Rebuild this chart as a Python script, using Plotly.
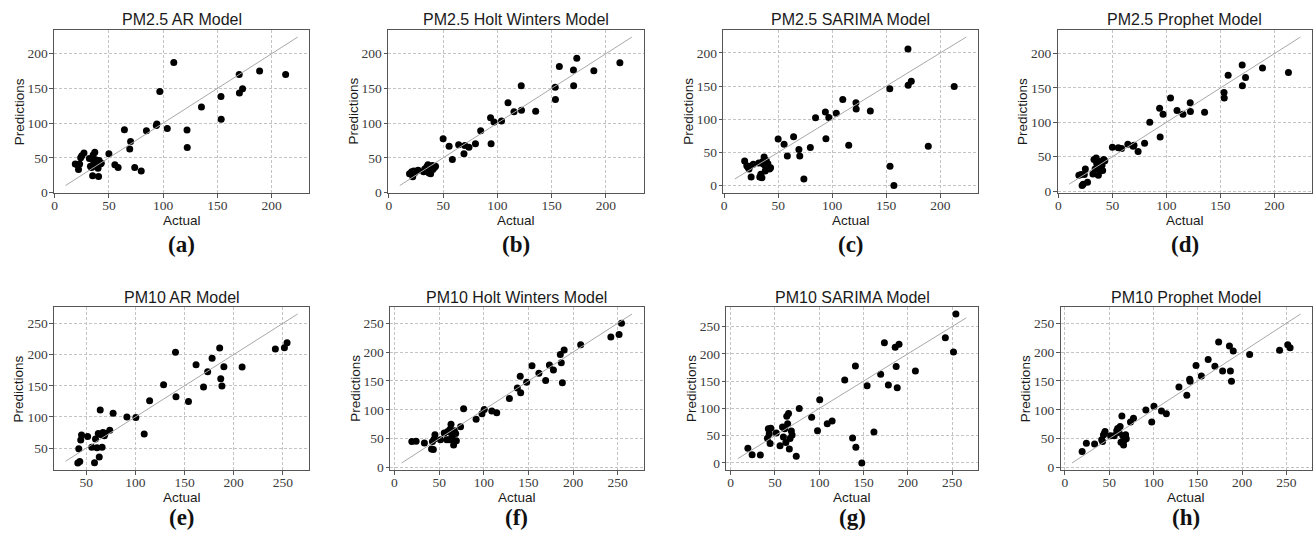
import plotly.graph_objects as go

W, H = 1313, 549

# ---------------- PM2.5 data ----------------
pm25_actual = [19, 21, 22, 23, 24, 25, 27, 32, 33, 34, 35, 35.5, 36, 37, 37.5, 38, 38.5, 39, 40, 40.5, 41, 42, 43,
               50, 55.5, 58.5, 64.3, 69.2, 70, 73.8, 79.8, 84.6, 93.7, 94.2, 96.9, 103.8, 109.8, 115.3, 122, 122.2,
               135.3, 153.3, 153.5, 157.1, 170.1, 170.3, 173.2, 188.9, 212.9]
pm25_ar = [41, 40, 33, 41, 50, 53, 57, 49, 38, 36, 24, 54, 45, 58, 38, 43, 47, 40, 35, 23, 46, 41, 42,
           56, 40, 36.2, 90.4, 62.6, 73.4, 36.2, 31.1, 88.9, 96.5, 98.8, 145.4, 92.2, 187.3, None, 89.9, 64.9,
           123.3, 138.4, 105.4, None, 169.9, 143.5, 149.6, 175, 169.9]
pm25_hw = [27, 30, 22.6, 31, 29, 30.6, 32, 30, 34, 31, 37, 33, 40, 28, 37, 34, 27, 35, 39, 33, 38, 36, 38,
           77.6, 66.8, 47.5, 68.7, 56, 67.8, 65.4, 70.1, 89, 107.8, 70.1, 101.6, 103, 129.4, 116.2, 153.9, 118.6,
           117.2, 151.5, 134.1, 181.6, 176.5, 153.9, 193.4, 175.5, 186.8]
pm25_sarima = [37, 30, 28, 25, 29, 13, 32, 34, 13, 17, 12, 36, 33, 43, 31, 22, 36, 38, 27, 33, 28, 25, 27,
               70.3, 62.4, 44.7, 73.7, 54.5, 44.7, 9.8, 57.5, 102.2, 111, 70.8, 102.7, 109, 129.7, 60.9, 124.8, 115.5,
               112.5, 145.9, 29, 0, 205.9, 151.4, 157.2, 59.5, 149.4]
pm25_prophet = [23, 24, 8, 10, 24, 32, 13, 25, 46, 32, 48, 40, 34, 23, 33, 43, 29, 36, 40, 38, 30, 46, 44,
                63.8, 62.9, 61.9, 68.1, 65.2, 66.7, 57.6, 69.5, 100, 120.5, 78.6, 111.9, 135.2, 117.1, 111.9, 128.6, 115.7,
                114.8, 143.3, 135.2, 168.6, 183.3, 153.3, 165.2, 179, 172.4]
pm25_line = [10, 224]

# ---------------- PM10 data ----------------
pm10_actual = [19.4, 24.2, 33.5, 41.5, 42.5, 43.5, 44.5, 45.3, 51.5, 55.7, 58.5, 59.5, 61, 62.3, 63.3, 64.3, 65.3,
               66.2, 67, 68.5, 69.3,
               74, 77.4, 91.4, 98, 100.5, 109, 114.5, 128.7, 137.6, 140.8, 141.3, 148, 154, 161.7, 169.3, 173.5, 178,
               185.7, 186.8, 188, 190, 208.5, 242.3, 251.5, 254.2]
pm10_ar = [None, None, None, 26.3, 49, 28.5, 63.2, 71, 68.9, 51.6, 26.8, 64.7, 50.5, 73.7, 35.8, 111, 71.6,
           51.6, 75.3, 70, 74,
           78.9, 105.8, 100, None, 99, 72.6, 125.8, 151.6, None, 203.7, 132.6, None, 124.7, 183.7, 147.9, 172.6, 194.2,
           210.5, 161.1, 149.5, 180.5, 180, 208.9, 211.1, 218.9]
pm10_hw = [45, 45.5, 42.7, 32.4, 45, 31.3, 49.5, 56.9, 48.4, 59.8, 48.4, 62.6, 48.4, 66.6, 75.1, 56.9, 48.4,
           39.3, 63.7, 59.2, 46.7,
           70.6, 101.9, 83.7, 93.3, 100.7, 97.9, 95, 119.5, 137.7, 158.2, 129.8, 148, 176.4, 163.3, 150.8, 177.6, 169,
           195.8, 181.6, 146.8, 203.8, 212.9, 226, 230.5, 249.9]
pm10_sarima = [27.2, 15.1, 14.5, 45.3, 62.8, 53.7, 35.6, 63.4, 55, 31.4, 65.8, 47.7, 62.8, 37.4, 85.7, 71.9, 90.6,
               25.4, 44.7, 58.6, 51.3,
               12.5, 99.6, 83.9, 59.2, 115.9, 71.9, 76.7, 152.2, 45.9, 177.5, 29, 0, 141.3, 56.8, 162.4, 220.4, 143.1,
               212, 176.9, 137.7, 217.4, 168.5, 229.5, 203.5, 273]
pm10_prophet = [27.9, 42.1, 41, 48.4, 45, 56.3, 59, 62.6, 55.2, 55.2, 63.7, 67.7, 60.9, 71.1, 43.8, 89.4, 55.2,
                39.3, 47.8, 56.9, 50,
                79.1, 85.4, 99.6, 79.1, 106.4, 97.9, 93.3, 139.4, 125.2, 153.1, 149.7, 177, 158.8, 187.3, 175.3, 217.4,
                167.3, 210.6, 167.3, 149.7, 202, 195.8, 203.2, 212.9, 207.7]
pm10_line_ar = [29, 265]
pm10_line = [8, 266]

titles = ["PM2.5 AR Model", "PM2.5 Holt Winters Model", "PM2.5 SARIMA Model", "PM2.5 Prophet Model",
          "PM10 AR Model", "PM10 Holt Winters Model", "PM10 SARIMA Model", "PM10 Prophet Model"]
tags = ["(a)", "(b)", "(c)", "(d)", "(e)", "(f)", "(g)", "(h)"]
xs = [pm25_actual] * 4 + [pm10_actual] * 4
ys = [pm25_ar, pm25_hw, pm25_sarima, pm25_prophet, pm10_ar, pm10_hw, pm10_sarima, pm10_prophet]
lines = [pm25_line] * 4 + [pm10_line_ar, pm10_line, pm10_line, pm10_line]

# plot-area boxes in pixels: left, right, top, bottom
boxes = [(51, 307, 30, 195.5), (386, 642, 30, 195.5), (722, 977, 30, 195.5), (1057, 1312, 30, 195.5),
         (51, 307, 310.5, 476.5), (388, 642, 310.5, 476.5), (725, 977, 310.5, 476.5), (1060, 1312, 310.5, 476.5)]


def padded(lo, hi):
    s = hi - lo
    return [lo - 0.05 * s, hi + 0.05 * s]


def px(x):
    return x / W


def py(y):
    return 1 - y / H


fig = go.Figure()
annotations = []
sans = "Liberation Sans, Arial, sans-serif"
serif = "Liberation Serif, Times New Roman, serif"

for i in range(8):
    n = i + 1
    xa = "x" if n == 1 else f"x{n}"
    ya = "y" if n == 1 else f"y{n}"
    xv = [a for a, p in zip(xs[i], ys[i]) if p is not None]
    yv = [p for p in ys[i] if p is not None]
    ln = lines[i]
    xr = padded(min(min(xv), ln[0]), max(max(xv), ln[1]))
    yr = padded(min(min(yv), ln[0]), max(max(yv), ln[1]))

    fig.add_trace(go.Scatter(x=xv, y=yv, mode="markers", xaxis=xa, yaxis=ya,
                             marker=dict(color="black", size=7, line=dict(width=0)),
                             showlegend=False, hoverinfo="skip"))
    fig.add_trace(go.Scatter(x=ln, y=ln, mode="lines", xaxis=xa, yaxis=ya,
                             line=dict(color="#a8a8a8", width=1),
                             showlegend=False, hoverinfo="skip"))

    l, r, t, b = boxes[i]
    common = dict(showline=True, mirror=True, linecolor="#555555", linewidth=1.1,
                  showgrid=True, gridcolor="#c4c4c4", gridwidth=0.8, griddash="3px,2px",
                  zeroline=False, ticks="outside", ticklen=3.5, tickwidth=0.8, tickcolor="#555555",
                  tickmode="linear", tick0=0, dtick=50,
                  tickfont=dict(family=serif, size=13.5, color="#3a3a3a"))
    fig.layout[("xaxis" if n == 1 else f"xaxis{n}")] = dict(
        domain=[px(l), px(r)], range=xr, anchor=ya, ticklabelstandoff=-4, **common)
    fig.layout[("yaxis" if n == 1 else f"yaxis{n}")] = dict(
        domain=[py(b), py(t)], range=yr, anchor=xa, ticklabelstandoff=-1, **common)

    cx = (l + r) / 2
    top_row = i < 4
    annotations.append(dict(text=titles[i], x=px(cx), y=py(20 if top_row else 301), xref="paper", yref="paper",
                            showarrow=False, xanchor="center", yanchor="middle",
                            font=dict(family=sans, size=16, color="#1a1a1a")))
    annotations.append(dict(text="Actual", x=px(cx), y=py(b + 27.5), xref="paper", yref="paper",
                            showarrow=False, xanchor="center", yanchor="middle",
                            font=dict(family=sans, size=13.5, color="#1a1a1a")))
    annotations.append(dict(text="Predictions", x=px(l - 35), y=py((t + b) / 2), xref="paper", yref="paper",
                            showarrow=False, xanchor="center", yanchor="middle", textangle=-90,
                            font=dict(family=sans, size=13.5, color="#1a1a1a")))
    annotations.append(dict(text="<b>" + tags[i] + "</b>", x=px(cx), y=py(248 if top_row else 524),
                            xref="paper", yref="paper", showarrow=False, xanchor="center", yanchor="middle",
                            font=dict(family=serif, size=23, color="#111111")))

fig.update_layout(width=W, height=H, autosize=False, margin=dict(l=0, r=0, t=0, b=0),
                  paper_bgcolor="white", plot_bgcolor="white", annotations=annotations)

fig.write_html("out.html", config={"displayModeBar": False},
               post_script="document.body.style.margin='0';document.body.style.overflow='hidden';")
